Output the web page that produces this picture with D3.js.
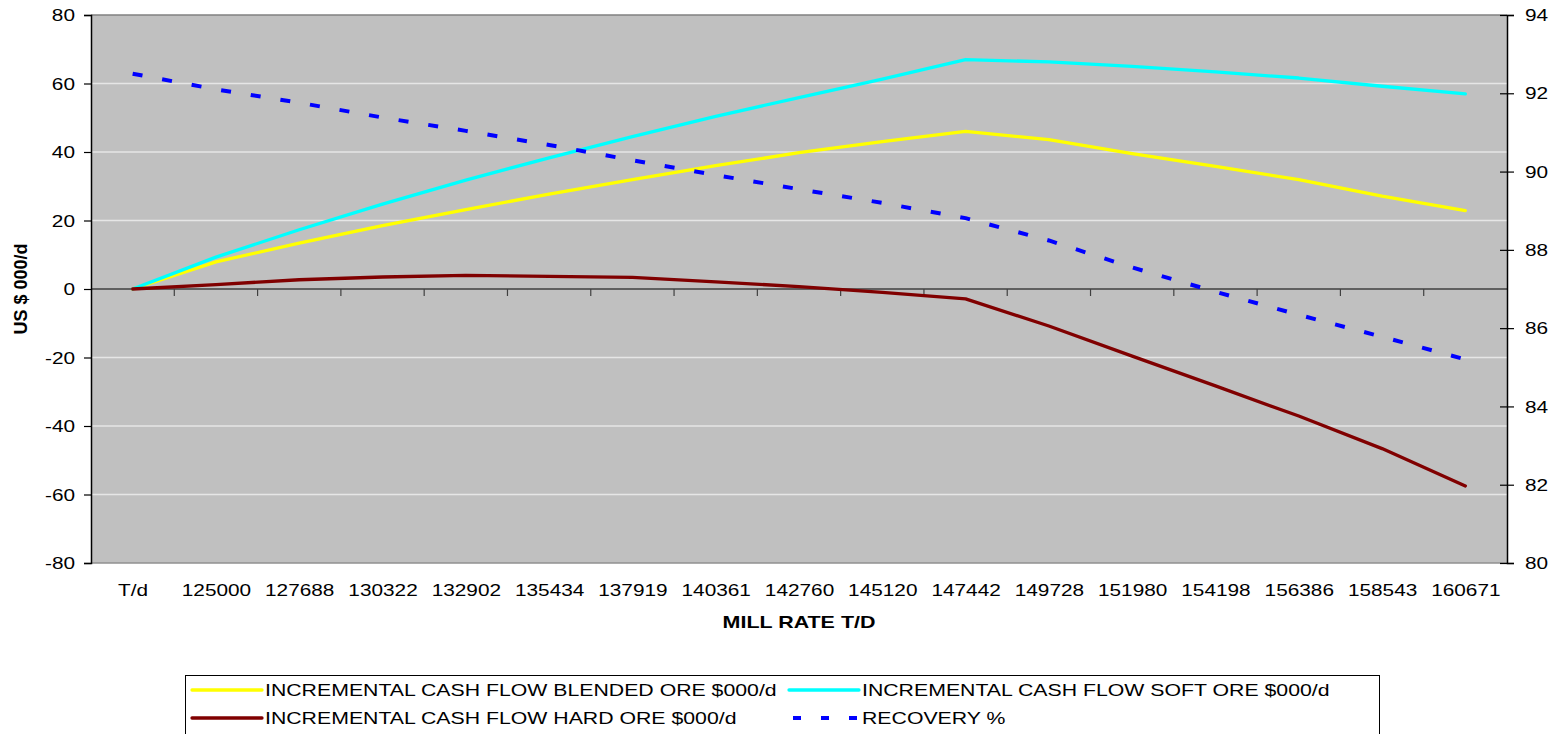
<!DOCTYPE html>
<html>
<head>
<meta charset="utf-8">
<script src="https://cdn.jsdelivr.net/npm/d3@7"></script>
<style>
  html, body { margin: 0; padding: 0; background: #ffffff; }
  svg { display: block; }
  text { font-family: "Liberation Sans", Arial, sans-serif; fill: #000; }
</style>
</head>
<body>
<svg id="chart" width="1556" height="734"></svg>
<script>
// Mill rate categories (x axis)
const categories = ["T/d", "125000", "127688", "130322", "132902", "135434", "137919", "140361",
  "142760", "145120", "147442", "149728", "151980", "154198", "156386", "158543", "160671"];

// Incremental cash flow, US $000/d (left axis)
const blended = [0, 7.9, 13.4, 18.5, 23.2, 27.7, 31.9, 36.0, 39.8, 43.0, 46.0, 43.6, 39.5, 35.8, 31.9, 27.1, 22.9];
const soft    = [0, 9.3, 17.3, 24.8, 31.8, 38.3, 44.5, 50.4, 55.9, 61.3, 67.0, 66.3, 65.0, 63.4, 61.6, 59.2, 57.0];
const hard    = [0, 1.3, 2.7, 3.5, 4.0, 3.7, 3.4, 2.1, 0.7, -1.0, -2.9, -10.8, -19.6, -28.3, -37.1, -46.6, -57.5];

// Recovery %, right axis
const recovery = [92.5, 92.1, 91.76, 91.38, 91.04, 90.68, 90.29, 89.91, 89.55, 89.2, 88.81, 88.24, 87.55, 86.93, 86.34, 85.78, 85.2];

// Tick values
const leftTicks = [-80, -60, -40, -20, 0, 20, 40, 60, 80];
const rightTicks = [80, 82, 84, 86, 88, 90, 92, 94];

// Legend labels
const seriesNames = [
  "INCREMENTAL CASH FLOW BLENDED ORE $000/d",
  "INCREMENTAL CASH FLOW SOFT ORE $000/d",
  "INCREMENTAL CASH FLOW HARD ORE $000/d",
  "RECOVERY %"
];

const plot = { left: 91, right: 1507, top: 15, bottom: 563 };
const SX = 1.3;        // horizontal stretch applied to text glyphs
const SXL = 1.33;      // stretch for legend entries
const FS = 16;
const plainNum = v => String(v);   // hyphen-minus for negatives

const svg = d3.select("#chart");

const xb = d3.scaleBand().domain(categories).range([plot.left, plot.right]).paddingInner(0).paddingOuter(0);
const xc = d => xb(d) + xb.bandwidth() / 2;
const yL = d3.scaleLinear().domain([-80, 80]).range([plot.bottom, plot.top]);
const yR = d3.scaleLinear().domain([80, 94]).range([plot.bottom, plot.top]);

// plot area background
svg.append("rect")
  .attr("x", plot.left).attr("y", plot.top)
  .attr("width", plot.right - plot.left).attr("height", plot.bottom - plot.top)
  .attr("fill", "#c0c0c0");

// horizontal gridlines
svg.append("g").selectAll("line")
  .data(leftTicks.filter(v => v !== 0 && v !== 80 && v !== -80))
  .join("line")
  .attr("x1", plot.left).attr("x2", plot.right)
  .attr("y1", d => yL(d)).attr("y2", d => yL(d))
  .attr("stroke", "#e6e6e6").attr("stroke-width", 1.5);

// plot area frame top / bottom
svg.append("line").attr("x1", plot.left).attr("x2", plot.right)
  .attr("y1", plot.top).attr("y2", plot.top).attr("stroke", "#808080").attr("stroke-width", 1.5);
svg.append("line").attr("x1", plot.left).attr("x2", plot.right)
  .attr("y1", plot.bottom).attr("y2", plot.bottom).attr("stroke", "#909090").attr("stroke-width", 1.5);

// category axis along zero, ticks at band boundaries
svg.append("line").attr("x1", plot.left).attr("x2", plot.right)
  .attr("y1", yL(0)).attr("y2", yL(0)).attr("stroke", "#404040").attr("stroke-width", 1.5);
svg.append("g").selectAll("line")
  .data(categories.slice(1))
  .join("line")
  .attr("x1", d => xb(d)).attr("x2", d => xb(d))
  .attr("y1", yL(0)).attr("y2", yL(0) + 7)
  .attr("stroke", "#404040").attr("stroke-width", 1.2);

// category labels below the plot
const xAxis = d3.axisBottom(d3.scalePoint().domain(categories)
    .range([xc(categories[0]), xc(categories[categories.length - 1])]))
  .tickSize(0).tickPadding(0);
const gx = svg.append("g").attr("transform", `translate(0, 590)`).call(xAxis);
gx.select(".domain").remove();
gx.selectAll("text")
  .attr("y", 0).attr("dy", "0.35em")
  .attr("font-size", FS)
  .attr("transform", `scale(${SX},1)`)
  .style("font-family", "'Liberation Sans', Arial, sans-serif");

// left axis
const gl = svg.append("g").attr("transform", `translate(${plot.left},0)`)
  .call(d3.axisLeft(yL).tickValues(leftTicks).tickFormat(plainNum).tickSize(7).tickPadding(0));
gl.select(".domain").attr("stroke", "#000").attr("stroke-width", 1.5);
gl.selectAll(".tick line").attr("stroke", "#000").attr("stroke-width", 1.2);
gl.selectAll("text")
  .attr("x", -16 / SX).attr("dy", "0.35em")
  .attr("font-size", FS)
  .attr("transform", `scale(${SX},1)`)
  .style("font-family", "'Liberation Sans', Arial, sans-serif");

// right axis
const gr = svg.append("g").attr("transform", `translate(${plot.right},0)`)
  .call(d3.axisRight(yR).tickValues(rightTicks).tickFormat(plainNum).tickSize(7).tickPadding(0));
gr.select(".domain").attr("stroke", "#000").attr("stroke-width", 1.5);
gr.selectAll(".tick line").attr("x1", -7).attr("stroke", "#000").attr("stroke-width", 1.2);
gr.selectAll("text")
  .attr("x", 18 / SX).attr("dy", "0.35em")
  .attr("font-size", FS)
  .attr("transform", `scale(${SX},1)`)
  .style("font-family", "'Liberation Sans', Arial, sans-serif");

// axis titles
svg.append("text")
  .attr("transform", `translate(21, ${yL(0)}) rotate(-90)`)
  .attr("text-anchor", "middle").attr("dy", "0.35em")
  .attr("font-size", 18).attr("font-weight", "bold")
  .text("US $ 000/d");

svg.append("text")
  .attr("transform", `translate(${(plot.left + plot.right) / 2}, 622) scale(${SX},1)`)
  .attr("text-anchor", "middle").attr("dy", "0.35em")
  .attr("font-size", FS + 0.5).attr("font-weight", "bold")
  .text("MILL RATE T/D");

// series lines
const lineL = d3.line().x((d, i) => xc(categories[i])).y(d => yL(d));
const lineR = d3.line().x((d, i) => xc(categories[i])).y(d => yR(d));

const styles = [
  { data: blended, gen: lineL, color: "#ffff00", dash: null, width: 3.3 },
  { data: soft,    gen: lineL, color: "#00ffff", dash: null, width: 3.3 },
  { data: hard,    gen: lineL, color: "#800000", dash: null, width: 3.3 },
  { data: recovery, gen: lineR, color: "#0000ff", dash: "10,20", width: 4 }
];

styles.forEach(s => {
  svg.append("path")
    .datum(s.data)
    .attr("d", s.gen)
    .attr("fill", "none")
    .attr("stroke", s.color)
    .attr("stroke-width", s.width)
    .attr("stroke-linejoin", "round")
    .attr("stroke-linecap", s.dash ? "butt" : "round")
    .attr("stroke-dasharray", s.dash);
});

// legend
const legend = svg.append("g");
legend.append("rect")
  .attr("x", 185.5).attr("y", 675.5).attr("width", 1194).attr("height", 80)
  .attr("fill", "#fff").attr("stroke", "#000").attr("stroke-width", 1);

const legendPos = [
  { x: 190, y: 690 }, { x: 787, y: 690 },
  { x: 190, y: 718 }, { x: 787, y: 718 }
];
styles.forEach((s, i) => {
  const p = legendPos[i];
  const g = legend.append("g").attr("transform", `translate(${p.x},${p.y})`);
  g.append("line")
    .attr("x1", s.dash ? 6 : 2).attr("x2", 72)
    .attr("y1", 0).attr("y2", 0)
    .attr("stroke", s.color)
    .attr("stroke-width", s.width)
    .attr("stroke-linecap", s.dash ? "butt" : "round")
    .attr("stroke-dasharray", s.dash ? "8,20" : null);
  g.append("text")
    .attr("transform", `translate(75,0) scale(${SXL},1)`)
    .attr("dy", "0.35em")
    .attr("font-size", FS)
    .text(seriesNames[i]);
});
</script>
</body>
</html>
